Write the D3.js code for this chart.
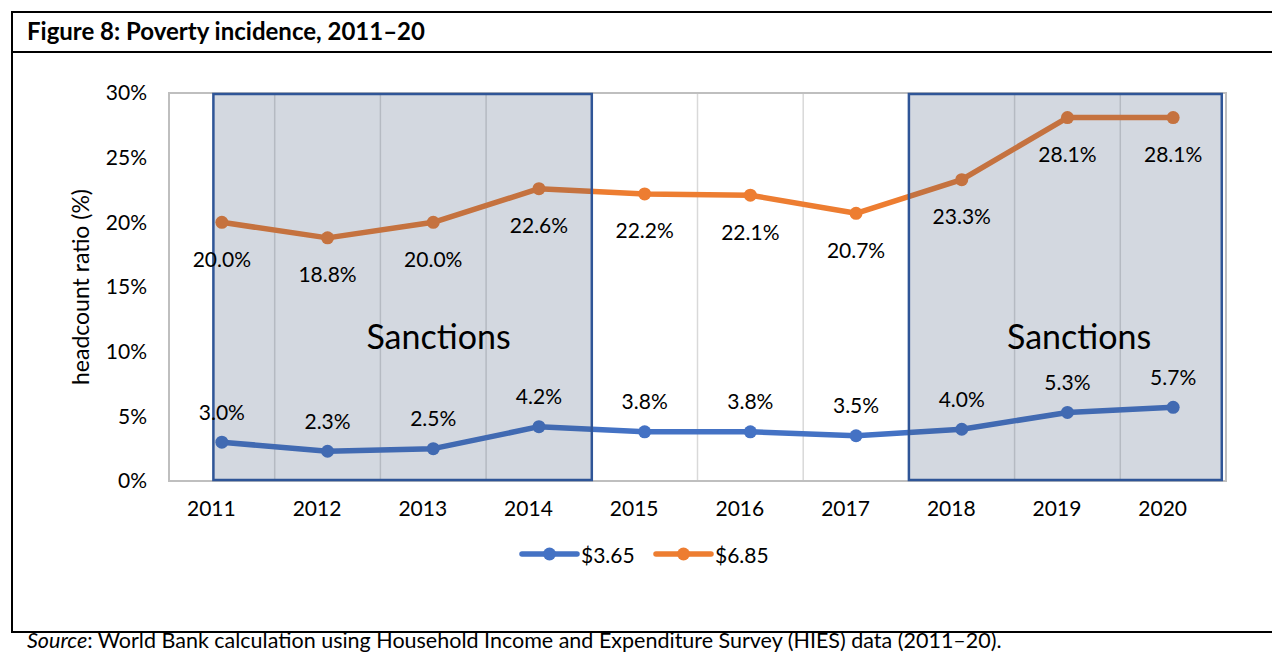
<!DOCTYPE html>
<html>
<head>
<meta charset="utf-8">
<script src="https://cdn.jsdelivr.net/npm/d3@7"></script>
<style>
  html, body { margin: 0; padding: 0; background: #fff; }
  svg { display: block; font-family: Lato, "Noto Sans", sans-serif; }
</style>
</head>
<body>
<svg id="chart" width="1272" height="654"></svg>
<script>
// Poverty headcount ratios (%) by international poverty line
const years = ["2011", "2012", "2013", "2014", "2015", "2016", "2017", "2018", "2019", "2020"];
const line365 = [3.0, 2.3, 2.5, 4.2, 3.8, 3.8, 3.5, 4.0, 5.3, 5.7];
const line685 = [20.0, 18.8, 20.0, 22.6, 22.2, 22.1, 20.7, 23.3, 28.1, 28.1];
const seriesNames = ["$3.65", "$6.85"];
const yTicks = [0, 5, 10, 15, 20, 25, 30];
// Sanction periods, in year units along the x axis, and where their captions sit
const sanctionStart = [2010.92, 2017.5];
const sanctionEnd = [2014.5, 2020.46];
const sanctionCaptionAt = [2013.05, 2019.11];

const svg = d3.select("#chart");
const W = 1272, H = 654;

// Frame and title bar
svg.append("rect").attr("x", 12).attr("y", 12).attr("width", W + 10).attr("height", 620)
  .attr("fill", "none").attr("stroke", "#000").attr("stroke-width", 2);
svg.append("line").attr("x1", 12).attr("x2", W + 10).attr("y1", 52).attr("y2", 52)
  .attr("stroke", "#000").attr("stroke-width", 2);
svg.append("text").attr("x", 27).attr("y", 40).attr("font-size", 24).attr("font-weight", 700)
  .attr("fill", "#000").text("Figure 8: Poverty incidence, 2011–20");

// Plot area
const plot = { left: 169, right: 1226, top: 93, bottom: 481 };
const x = d3.scaleLinear().domain([2010.5, 2020.5]).range([plot.left, plot.right]);
const y = d3.scaleLinear().domain([0, 30]).range([plot.bottom, plot.top]);

// Vertical gridlines at category boundaries
const g = svg.append("g");
g.selectAll("line.grid").data(d3.range(2011.5, 2020.5, 1)).join("line")
  .attr("class", "grid")
  .attr("x1", d => x(d)).attr("x2", d => x(d))
  .attr("y1", plot.top).attr("y2", plot.bottom)
  .attr("stroke", "#d9d9d9").attr("stroke-width", 1.5);

// Plot border
g.append("rect").attr("x", plot.left).attr("y", plot.top)
  .attr("width", plot.right - plot.left).attr("height", plot.bottom - plot.top)
  .attr("fill", "none").attr("stroke", "#bfbfbf").attr("stroke-width", 2);

// Y axis labels
const yAxis = d3.axisLeft(y).tickValues(yTicks).tickFormat(d => d + "%").tickSize(0).tickPadding(22);
svg.append("g").attr("transform", `translate(${plot.left},0)`).call(yAxis)
  .call(a => a.select(".domain").remove())
  .call(a => a.selectAll("text").attr("font-size", 21).attr("fill", "#000").attr("font-family", "Lato, sans-serif"));

// X axis labels
const yearNums = years.map(Number);
const xAxis = d3.axisBottom(x).tickValues(yearNums).tickFormat(d => String(d)).tickSize(0).tickPadding(20);
svg.append("g").attr("transform", `translate(0,${plot.bottom})`).call(xAxis)
  .call(a => a.select(".domain").remove())
  .call(a => a.selectAll("text").attr("dx", -11).attr("font-size", 21).attr("fill", "#000").attr("font-family", "Lato, sans-serif"));

// Y axis title
svg.append("text").attr("transform", `translate(89,${(plot.top + plot.bottom) / 2}) rotate(-90)`)
  .attr("text-anchor", "middle").attr("font-size", 23).attr("fill", "#000")
  .text("headcount ratio (%)");

// Series
const colors = ["#4472c4", "#ed7d31"];
const seriesData = [line365, line685];
const lineGen = d3.line().x((d, i) => x(yearNums[i])).y(d => y(d));
seriesData.forEach((vals, s) => {
  svg.append("path").datum(vals).attr("d", lineGen)
    .attr("fill", "none").attr("stroke", colors[s]).attr("stroke-width", 5.5)
    .attr("stroke-linejoin", "round");
  svg.selectAll(null).data(vals).join("circle")
    .attr("cx", (d, i) => x(yearNums[i])).attr("cy", d => y(d)).attr("r", 6.5)
    .attr("fill", colors[s]);
});

// Sanction periods: translucent overlays with outline
const spans = sanctionStart.map((s, i) => ({ s, e: sanctionEnd[i], c: sanctionCaptionAt[i] }));
svg.selectAll("rect.sanction").data(spans).join("rect")
  .attr("class", "sanction")
  .attr("x", d => x(d.s)).attr("y", y(30) + 1)
  .attr("width", d => x(d.e) - x(d.s)).attr("height", y(0) - y(30) - 2)
  .attr("fill", "rgb(55,78,114)").attr("fill-opacity", 0.22)
  .attr("stroke", "#2f5597").attr("stroke-width", 2.5);

// Data labels
svg.selectAll(null).data(line685).join("text")
  .attr("x", (d, i) => x(yearNums[i])).attr("y", d => y(d) + 36)
  .attr("text-anchor", "middle").attr("dominant-baseline", "central")
  .attr("font-size", 21).attr("fill", "#000").text(d => d.toFixed(1) + "%");
svg.selectAll(null).data(line365).join("text")
  .attr("x", (d, i) => x(yearNums[i])).attr("y", d => y(d) - 31)
  .attr("text-anchor", "middle").attr("dominant-baseline", "central")
  .attr("font-size", 21).attr("fill", "#000").text(d => d.toFixed(1) + "%");

// Sanctions captions
svg.selectAll(null).data(spans).join("text")
  .attr("x", d => x(d.c)).attr("y", 335)
  .attr("text-anchor", "middle").attr("dominant-baseline", "central")
  .attr("font-size", 34).attr("fill", "#000").text("Sanctions");

// Legend
const legendItems = [{ x: 522 }, { x: 656 }];
legendItems.forEach((item, i) => {
  const lg = svg.append("g").attr("transform", `translate(${item.x},554)`);
  lg.append("line").attr("x1", 0).attr("x2", 55).attr("y1", 0).attr("y2", 0)
    .attr("stroke", colors[i]).attr("stroke-width", 5.5).attr("stroke-linecap", "round");
  lg.append("circle").attr("cx", 27.5).attr("cy", 0).attr("r", 6.5).attr("fill", colors[i]);
  lg.append("text").attr("x", 59).attr("y", 0).attr("dominant-baseline", "central")
    .attr("font-size", 21).attr("fill", "#000").text(seriesNames[i]);
});

// Source note
const src = svg.append("text").attr("x", 27).attr("y", 648).attr("font-size", 21.5).attr("fill", "#000");
src.append("tspan").attr("font-style", "italic").text("Source");
src.append("tspan").text(": World Bank calculation using Household Income and Expenditure Survey (HIES) data (2011–20).");
</script>
</body>
</html>
